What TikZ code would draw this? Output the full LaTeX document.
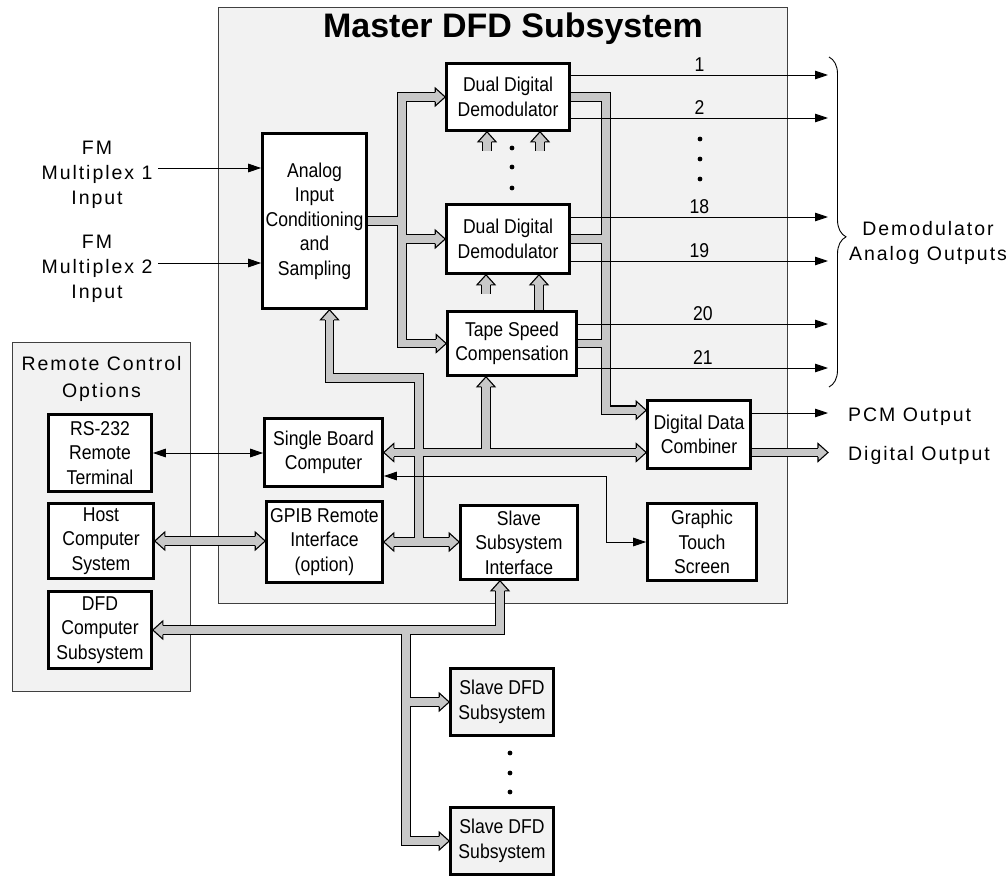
\documentclass[tikz,border=0pt]{standalone}
\usepackage{fontspec}
\setmainfont{Liberation Sans}
\newfontfamily\boxfnt[FakeStretch=0.88]{Liberation Sans}
\newfontfamily\widefnt[LetterSpace=10]{Liberation Sans}
\usetikzlibrary{arrows.meta,calc,decorations.pathreplacing}
\definecolor{bgray}{RGB}{242,242,242}
\definecolor{busg}{RGB}{200,200,200}
\newcommand\bhead[2]{\draw[bushead, shift={#1}, rotate=#2] (-10,-4.7) -- (-10,-9) -- (0,0) -- (-10,9) -- (-10,4.7);}
\newcommand\drawbuses[1]{%
  \draw[#1, shorten <=10pt, shorten >=10pt] (demA.west) -- (demA.west -| vl) -- (tape.west -| vl) -- (tape.west);
  \draw[#1, shorten >=10pt] (demB.west -| vl) -- (demB.west);
  \draw[#1] (analog.east) -- (analog.east -| vl);
  \draw[#1, shorten >=10pt] (demA.east) -- (demA.east -| vr) -- (vr |- ddcin) -- (ddcin);
  \draw[#1] (demB.east) -- (demB.east -| vr);
  \draw[#1] (tape.east) -- (tape.east -| vr);
  \draw[#1, shorten <=10pt, shorten >=10pt] (sbc.east) -- (sbc.east -| ddc.west);
  \draw[#1, shorten >=10pt] (tb |- sbc.east) -- (tb);
  \draw[#1, shorten <=10pt] (ab) -- (abk) -- (abk -| vm) -- (vm |- gpib.east);
  \draw[#1, shorten <=10pt, shorten >=10pt] (gpib.east) -- (gpib.east -| ssi.west);
  \draw[#1, shorten <=10pt, shorten >=10pt] (host.east) -- (host.east -| gpib.west);
  \draw[#1, shorten <=10pt, shorten >=10pt] (dfd.east) -- (dfd.east -| sx) -- (sx);
  \draw[#1, shorten >=10pt] (dfd.east -| vs) -- (sl2.west -| vs) -- (sl2.west);
  \draw[#1, shorten >=10pt] (sl1.west -| vs) -- (sl1.west);
  \draw[#1, shorten >=10pt] (ddc.east |- sbc.east) -- (dout);
  \draw[#1, shorten >=10pt] ($(demA.south)+(-21,19)$) -- ($(demA.south)+(-21,0)$);
  \draw[#1, shorten >=10pt] ($(demA.south)+(32,19)$) -- ($(demA.south)+(32,0)$);
  \draw[#1, shorten >=10pt] ($(demB.south)+(-22,19)$) -- ($(demB.south)+(-22,0)$);
  \draw[#1, shorten >=10pt] (tape.north -| bx) -- (demB.south -| bx);
}
\begin{document}
\begin{tikzpicture}[x=1pt,y=-1pt,
  blk/.style={draw=black, line width=2.6pt, fill=white, align=center, inner sep=0pt,
    font=\boxfnt\fontsize{20}{24.5}\selectfont},
  outer/.style={align=center, inner sep=0pt, font=\widefnt\fontsize{19.5}{25}\selectfont},
  frame/.style={draw=black!75, line width=1pt, fill=bgray, inner sep=0pt},
  busout/.style={draw=black, line width=9.6pt, line join=miter},
  busin/.style={draw=busg, line width=7.4pt, line join=miter},
  bushead/.style={draw=black, fill=busg, line width=1.1pt, line join=miter},
  thin/.style={draw=black, line width=0.9pt},
  tip/.tip={Triangle[length=13pt,width=8.5pt]},
  num/.style={midway, above, inner sep=3pt, font=\boxfnt\fontsize{20}{24}\selectfont},
  dot/.style={fill=black}
]
\useasboundingbox (0,0) rectangle (1008,880);
% frames
\node[frame, minimum width=569, minimum height=596] (master) at (503,305.5) {};
\node[frame, minimum width=178, minimum height=349] (remote) at (101.5,517) {};
\node[anchor=base, inner sep=0pt, font=\bfseries\fontsize{34}{38}\selectfont] (title) at (513,38) {Master DFD Subsystem};
\node[outer, font=\widefnt\fontsize{19.5}{27}\selectfont] (rtitle) at (101.5,379) {Remote Control\\Options};
% blocks
\node[blk, minimum width=104, minimum height=175] (analog) at (314.5,221) {Analog\\Input\\Conditioning\\and\\Sampling};
\node[blk, minimum width=123, minimum height=67] (demA) at (508,97) {Dual Digital\\Demodulator};
\node[blk, minimum width=123, minimum height=69] (demB) at (508,239) {Dual Digital\\Demodulator};
\node[blk, minimum width=129, minimum height=64] (tape) at (512,343.5) {Tape Speed\\Compensation};
\node[blk, minimum width=103, minimum height=68] (ddc) at (699,434.5) {Digital Data\\Combiner};
\node[blk, minimum width=118, minimum height=68] (sbc) at (323.5,452.5) {Single Board\\Computer};
\node[blk, minimum width=116, minimum height=81] (gpib) at (324.5,542) {GPIB Remote\\Interface\\(option)};
\node[blk, minimum width=117, minimum height=74] (ssi) at (519,542.5) {Slave\\Subsystem\\Interface};
\node[blk, minimum width=109, minimum height=77] (gts) at (702,542) {Graphic\\Touch\\Screen};
\node[blk, minimum width=103, minimum height=77] (rs) at (100,453) {RS-232\\Remote\\Terminal};
\node[blk, minimum width=105, minimum height=75] (host) at (101,541) {Host\\Computer\\System};
\node[blk, minimum width=103, minimum height=77] (dfd) at (100,630) {DFD\\Computer\\Subsystem};
\node[blk, fill=bgray, minimum width=103, minimum height=67] (sl1) at (502,702) {Slave DFD\\Subsystem};
\node[blk, fill=bgray, minimum width=103, minimum height=67] (sl2) at (502,841) {Slave DFD\\Subsystem};
% outer labels
\node[outer] (fm1) at (97,175) {FM\\Multiplex 1\\Input};
\node[outer] (fm2) at (97,269) {FM\\Multiplex 2\\Input};
\node[outer] (demout) at (928,243) {Demodulator\\Analog Outputs};
\node[outer, anchor=west] (pcm) at (848,417) {PCM Output};
\node[outer, anchor=west] (digout) at (848,455) {Digital Output};
% helper coordinates
\coordinate (vl) at (402,0);
\coordinate (vr) at (606,0);
\coordinate (vm) at (419,0);
\coordinate (vs) at (406,0);
\coordinate (bx) at (539,0);
\coordinate (outx) at (828,0);
\coordinate (ddcin) at ($(ddc.north west)+(0,11)$);
\coordinate (sx) at ($(ssi.south)+(-19,0)$);
\coordinate (ab) at ($(analog.south)+(15,0)$);
\coordinate (abk) at ($(analog.south)+(15,68)$);
\coordinate (tb) at ($(tape.south)+(-26,0)$);
\coordinate (dout) at (outx |- sbc.east);
\coordinate (in1) at (158,168);
\coordinate (in2) at (158,263);
% buses
\drawbuses{busout}
\drawbuses{busin}
\bhead{(demA.west)}{0}
\bhead{(demB.west)}{0}
\bhead{(tape.west)}{0}
\bhead{(ddcin)}{0}
\bhead{(sbc.east)}{180}
\bhead{(sbc.east -| ddc.west)}{0}
\bhead{(tb)}{90}
\bhead{(ab)}{90}
\bhead{(gpib.east)}{180}
\bhead{(gpib.east -| ssi.west)}{0}
\bhead{(host.east)}{180}
\bhead{(host.east -| gpib.west)}{0}
\bhead{(dfd.east)}{180}
\bhead{(sx)}{90}
\bhead{(sl1.west)}{0}
\bhead{(sl2.west)}{0}
\bhead{(dout)}{0}
\bhead{($(demA.south)+(-21,0)$)}{90}
\bhead{($(demA.south)+(32,0)$)}{90}
\bhead{($(demB.south)+(-22,0)$)}{90}
\bhead{(demB.south -| bx)}{90}
% thin connectors
\draw[thin, -tip] (in1) -- (in1 -| analog.west);
\draw[thin, -tip] (in2) -- (in2 -| analog.west);
\draw[thin, -tip] ($(demA.east)+(0,-22)$) coordinate (o1) -- (o1 -| outx) node[num] {1};
\draw[thin, -tip] ($(demA.east)+(0,21)$) coordinate (o2) -- (o2 -| outx) node[num] {2};
\draw[thin, -tip] ($(demB.east)+(0,-22)$) coordinate (o18) -- (o18 -| outx) node[num] {18};
\draw[thin, -tip] ($(demB.east)+(0,22)$) coordinate (o19) -- (o19 -| outx) node[num] {19};
\draw[thin, -tip] ($(tape.east)+(0,-19.5)$) coordinate (o20) -- (o20 -| outx) node[num] {20};
\draw[thin, -tip] ($(tape.east)+(0,24.5)$) coordinate (o21) -- (o21 -| outx) node[num] {21};
\draw[thin, -tip] ($(ddc.east)+(0,-21.5)$) coordinate (opcm) -- (opcm -| outx);
\draw[thin, tip-tip] (rs.east) -- (rs.east -| sbc.west);
\draw[thin, tip-tip] ($(sbc.east)+(0,23.5)$) coordinate (gs) -- (vr |- gs) -- (vr |- gts.west) -- (gts.west);
% brace
\draw[thin, decorate, decoration={brace, amplitude=17pt, aspect=0.545}] (829,57) -- (829,387);
% dots
\foreach \yy in {139,159,179} \fill[dot] (700,\yy) circle (2.4);
\foreach \yy in {148,167,188} \fill[dot] (512,\yy) circle (2.4);
\foreach \yy in {753,773,792} \fill[dot] (510,\yy) circle (2.4);
\end{tikzpicture}
\end{document}
